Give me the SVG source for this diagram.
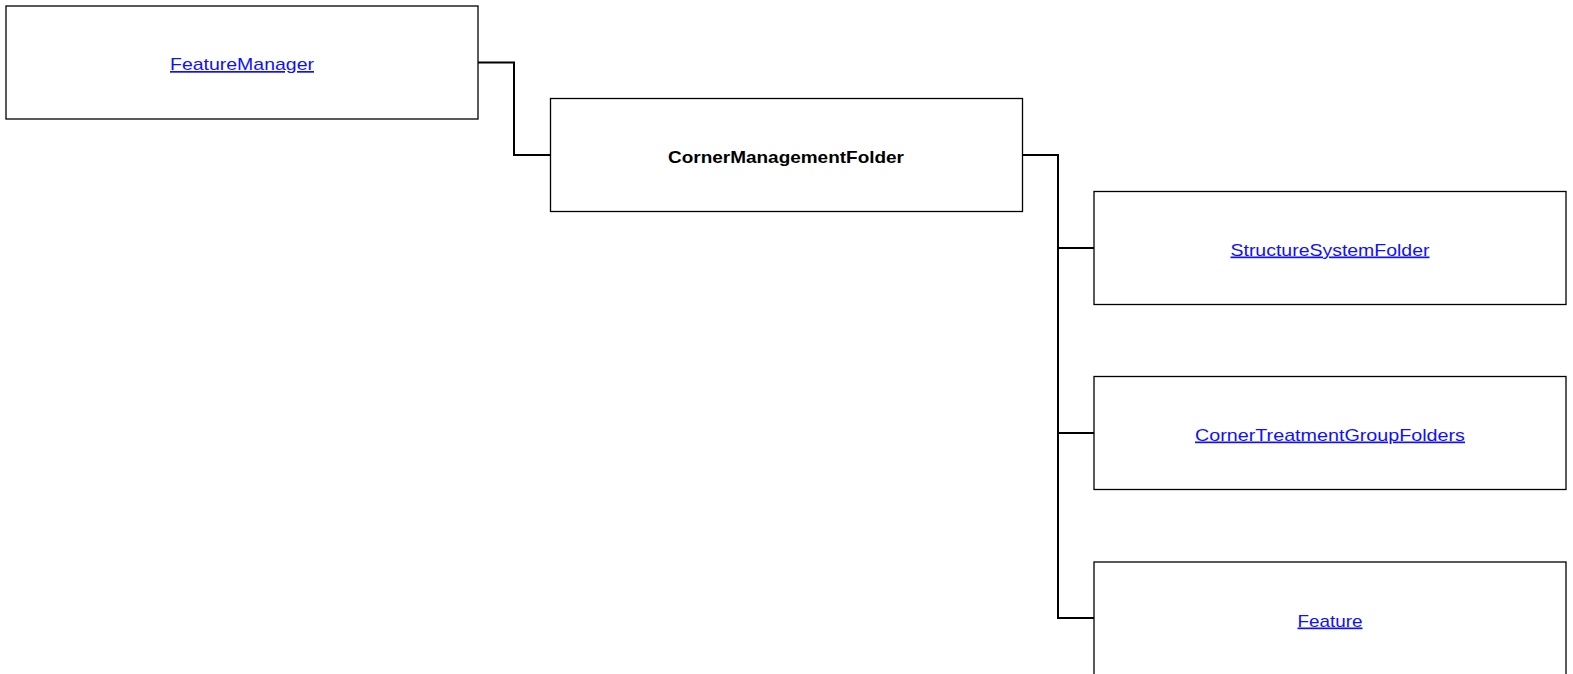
<svg xmlns="http://www.w3.org/2000/svg" width="1573" height="674" viewBox="0 0 1573 674">
<style>
.box{fill:#ffffff;stroke:#000000;stroke-width:1.3}
.lnk{font-family:"Liberation Sans",Arial,sans-serif;font-size:17px;fill:#1010ff;text-decoration:underline;text-anchor:middle}
.bold{font-family:"Liberation Sans",Arial,sans-serif;font-size:17px;font-weight:bold;fill:#000;text-anchor:middle}
.con{fill:none;stroke:#000;stroke-width:2}
</style>
<rect width="1573" height="674" fill="#ffffff"/>
<g id="connectors">
<polyline class="con" points="478,62.5 514,62.5 514,155 550,155"/>
<polyline class="con" points="1023,155 1058,155 1058,618 1094,618"/>
<line class="con" x1="1058" y1="248" x2="1094" y2="248"/>
<line class="con" x1="1058" y1="433" x2="1094" y2="433"/>
</g>
<g id="FeatureManager">
<rect class="box" x="6" y="6" width="472" height="113"/>
<text class="lnk" x="242" y="70" textLength="144" lengthAdjust="spacingAndGlyphs">FeatureManager</text>
</g>
<g id="CornerManagementFolder">
<rect class="box" x="550.5" y="98.5" width="472" height="113"/>
<text class="bold" x="786" y="163" textLength="236" lengthAdjust="spacingAndGlyphs">CornerManagementFolder</text>
</g>
<g id="StructureSystemFolder">
<rect class="box" x="1094" y="191.5" width="472" height="113"/>
<text class="lnk" x="1330" y="255.5" textLength="199" lengthAdjust="spacingAndGlyphs">StructureSystemFolder</text>
</g>
<g id="CornerTreatmentGroupFolders">
<rect class="box" x="1094" y="376.5" width="472" height="113"/>
<text class="lnk" x="1330" y="440.5" textLength="270" lengthAdjust="spacingAndGlyphs">CornerTreatmentGroupFolders</text>
</g>
<g id="Feature">
<rect class="box" x="1094" y="562" width="472" height="113"/>
<text class="lnk" x="1330" y="626.5" textLength="65" lengthAdjust="spacingAndGlyphs">Feature</text>
</g>
</svg>
